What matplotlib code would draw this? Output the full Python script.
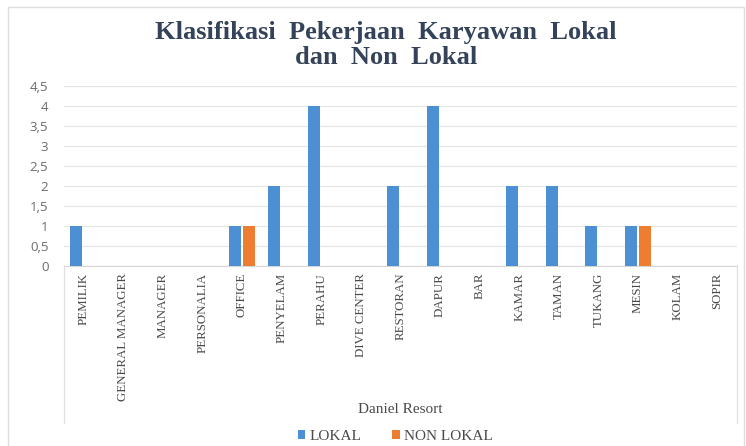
import numpy as np
import matplotlib
matplotlib.use("Agg")
from matplotlib import pyplot as plt
from matplotlib.lines import Line2D
from matplotlib.patches import Rectangle

categories = ["PEMILIK", "GENERAL MANAGER", "MANAGER", "PERSONALIA", "OFFICE",
              "PENYELAM", "PERAHU", "DIVE CENTER", "RESTORAN", "DAPUR", "BAR",
              "KAMAR", "TAMAN", "TUKANG", "MESIN", "KOLAM", "SOPIR"]
lokal = [1, 0, 0, 0, 1, 2, 4, 0, 2, 4, 0, 2, 2, 1, 1, 0, 0]
non_lokal = [0, 0, 0, 0, 1, 0, 0, 0, 0, 0, 0, 0, 0, 0, 1, 0, 0]
yticks = [0, 0.5, 1, 1.5, 2, 2.5, 3, 3.5, 4, 4.5]
ytick_labels = ["0", "0,5", "1", "1,5", "2", "2,5", "3", "3,5", "4", "4,5"]

blue = "#4d8fd3"
orange = "#ed7d31"
serif = ["Liberation Serif", "DejaVu Serif"]

fig = plt.figure(figsize=(7.46, 4.46), dpi=100)
ax = fig.add_axes([0.0854, 0.404, 0.9026, 0.404])

x = np.arange(len(categories))
w = 0.30
ax.bar(x - 0.18, lokal, w, color=blue, label="LOKAL", zorder=3)
ax.bar(x + 0.18, non_lokal, w, color=orange, label="NON LOKAL", zorder=3)

ax.set_xlim(-0.5, len(categories) - 0.5)
ax.set_ylim(0, 4.5)
ax.set_yticks(yticks)
ax.set_yticklabels(ytick_labels, fontsize=9.5, color="#6b6b6b", family="Open Sans")
ax.tick_params(axis="y", length=0, pad=11)
ax.set_xticks(x)
ax.set_xticklabels(categories, rotation=90, va="top", ha="center",
                   fontsize=9.3, color="#4a4a4a", family=serif)
ax.tick_params(axis="x", length=0, pad=5)
ax.grid(axis="y", color="#e6e6e6", linewidth=0.9, zorder=0)
for s in ["left", "right", "top"]:
    ax.spines[s].set_visible(False)
ax.spines["bottom"].set_color("#d6d6d6")

# box round the category area
for xa in [0, 1]:
    ax.add_line(Line2D([xa, xa], [0, -0.87], transform=ax.transAxes,
                       color="#e0e0e0", linewidth=0.9, clip_on=False))

fig.text(0.536, 0.081, "Daniel Resort", ha="center", va="center",
         fontsize=11, color="#4a4a4a", family=serif)

fig.suptitle("Klasifikasi  Pekerjaan  Karyawan  Lokal\ndan  Non  Lokal",
             x=0.517, y=0.952, fontsize=19, fontweight="bold",
             color="#34435a", family=serif, linespacing=1.08)

leg = fig.legend(loc="center", bbox_to_anchor=(0.53, 0.022), ncol=2, frameon=False,
                 prop={"family": serif, "size": 11}, handlelength=0.5,
                 handleheight=0.5, handletextpad=0.3, columnspacing=2.0)
for t in leg.get_texts():
    t.set_color("#4a4a4a")

# outer chart border
fig.patches.append(Rectangle((8 / 746, -0.01), 736 / 746, 1 - 7 / 446 + 0.01,
                             transform=fig.transFigure, fill=False,
                             edgecolor="#dedede", linewidth=1.0))

fig.savefig("out.png", dpi=100)
